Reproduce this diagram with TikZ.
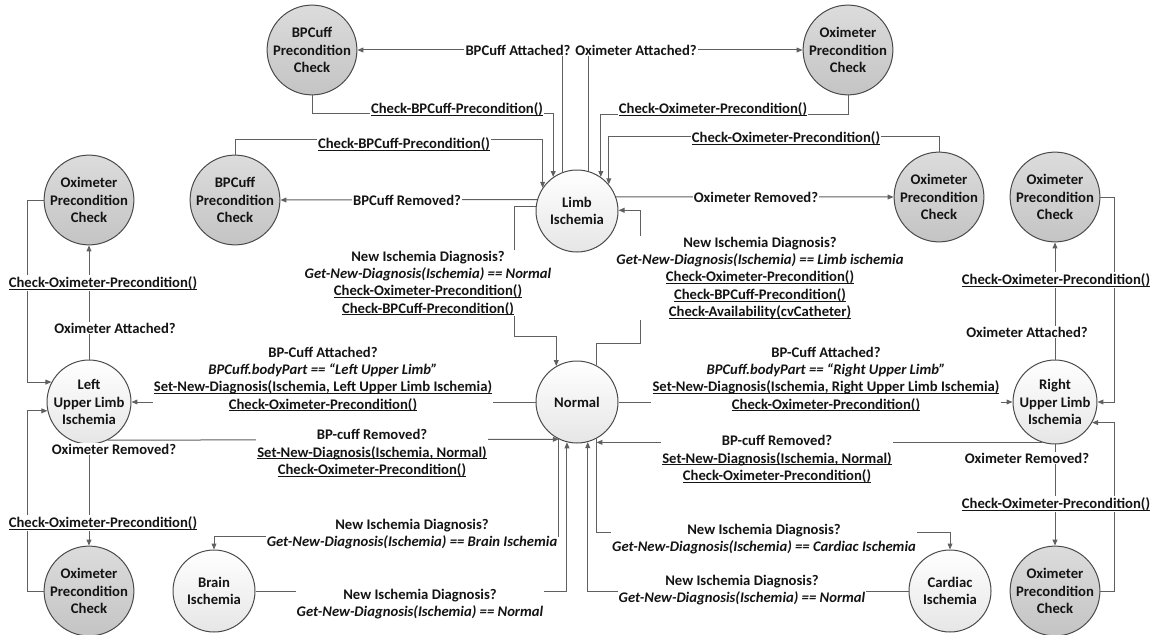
\documentclass[tikz,border=0pt]{standalone}
\usepackage{fontspec}
\setmainfont{Carlito}
\usetikzlibrary{arrows.meta}

\definecolor{lineGray}{HTML}{606060}
\definecolor{rimGray}{HTML}{4A4A4A}
\definecolor{pcTop}{HTML}{DCDCDC}
\definecolor{pcBot}{HTML}{C4C4C4}
\definecolor{stTop}{HTML}{FFFFFF}
\definecolor{stBot}{HTML}{E6E6E6}
\definecolor{ink}{HTML}{141414}

\newcommand\lblfont{\fontsize{11}{13}\selectfont\bfseries}
\newcommand\uln[1]{\setbox0\hbox{#1}\rlap{\rule[-1.6pt]{\wd0}{0.6pt}}\box0}

\tikzset{
  stnode/.style={circle, draw=rimGray, line width=0.75pt, minimum size=61.5pt,
    inner sep=0pt, align=center, font=\lblfont, text=ink},
  pcnode/.style={stnode, top color=pcTop, bottom color=pcBot},
  wtnode/.style={stnode, top color=stTop, bottom color=stBot},
  conn/.style={draw=lineGray, line width=0.75pt},
  arr/.style={conn, -{Triangle[length=4.5pt,width=3.6pt]}},
  lbl/.style={fill=white, inner sep=0.8pt, align=center, font=\lblfont, text=ink}
}

\begin{document}
\begin{tikzpicture}[x=0.75pt,y=-0.75pt]
\fill[white] (0,0) rectangle (1156,635);
\useasboundingbox (0,0) rectangle (1156,635);

% states
\node[pcnode] (bpTop)   at (312,50)  {BPCuff\\Precondition\\Check};
\node[pcnode] (oxTop)   at (848,50)  {Oximeter\\Precondition\\Check};
\node[wtnode] (limb)    at (577,211) {Limb\\Ischemia};
\node[pcnode] (bpMid)   at (235,200) {BPCuff\\Precondition\\Check};
\node[pcnode] (oxMid)   at (939,197) {Oximeter\\Precondition\\Check};
\node[pcnode] (oxL)     at (89,200)  {Oximeter\\Precondition\\Check};
\node[pcnode] (oxR)     at (1055,197){Oximeter\\Precondition\\Check};
\node[wtnode] (lul)     at (89,402)  {Left\\Upper Limb\\Ischemia};
\node[wtnode] (normal)  at (577,402) {Normal};
\node[wtnode] (rul)     at (1055,402){Right\\Upper Limb\\Ischemia};
\node[wtnode] (brain)   at (214,591) {Brain\\Ischemia};
\node[wtnode] (cardiac) at (950,591) {Cardiac\\Ischemia};
\node[pcnode] (oxLB)    at (89,591)  {Oximeter\\Precondition\\Check};
\node[pcnode] (oxRB)    at (1055,591){Oximeter\\Precondition\\Check};

% transitions around Limb Ischemia
\draw[arr] (limb.111.4) |- (bpTop.east);
\draw[arr] (limb.74.4) |- (oxTop.west);
\draw[arr] (bpTop.south) -- ++(0,18) -| (limb.125.8);
\draw[arr] (oxTop.south) -- ++(0,19) -| (limb.55.9);
\draw[arr] (bpMid.north) -- ++(0,-15) -| (limb.146);
\draw[arr] (oxMid.north) -- ++(0,-15) -| (limb.40.9);
\draw[arr] (limb.164.4) -- (bpMid.east);
\draw[arr] (limb.20) -- (oxMid.west);
\draw[arr] (limb.174.4) -- ++(-21,0) -- ++(0,130) -| (normal.120.8);
\draw[arr] (normal.62.4) -- ++(0,-22) -- ++(44,0) |- (limb.1.4);

% transitions around Normal
\draw[arr] (normal.west) -- (lul.east);
\draw[arr] (lul.-64.5) -- (normal.244.5);
\draw[arr] (normal.east) -- (rul.west);
\draw[arr] (rul.-108) -- (rul.-108 -| normal.-62.4);
\draw[arr] (normal.-117.6) -- ++(0,98) -| (brain.north);
\draw[arr] (brain.east) -| (normal.-104.1);
\draw[arr] (normal.-62.4) -- ++(0,94) -| (cardiac.north);
\draw[arr] (cardiac.west) -| (normal.-75.9);

% oximeter checks of the upper limbs
\draw[arr] (lul.north) -- (oxL.south);
\draw[arr] (oxL.west) -- ++(-16,0) |- (lul.152.4);
\draw[arr] (lul.south) -- (oxLB.north);
\draw[arr] (oxLB.west) -- ++(-16,0) |- (lul.192.7);
\draw[arr] (rul.north) -- (oxR.south);
\draw[arr] (oxR.east) -- ++(14,0) |- (rul.east);
\draw[arr] (rul.south) -- (oxRB.north);
\draw[arr] (oxRB.east) -- ++(14,0) |- (rul.-29.2);

% guards and actions
\node[lbl] (g1)  at (518,50)  {BPCuff Attached?};
\node[lbl] (g2)  at (636,50)  {Oximeter Attached?};
\node[lbl] (g3)  at (457,109) {\uln{Check-BPCuff-Precondition()}};
\node[lbl] (g4)  at (713,109) {\uln{Check-Oximeter-Precondition()}};
\node[lbl] (g5)  at (404,144) {\uln{Check-BPCuff-Precondition()}};
\node[lbl] (g6)  at (786,138) {\uln{Check-Oximeter-Precondition()}};
\node[lbl] (g7)  at (407,200) {BPCuff Removed?};
\node[lbl] (g8)  at (756,197) {Oximeter Removed?};
\node[lbl] (g9)  at (428,283) {New Ischemia Diagnosis?\\
  \textit{Get-New-Diagnosis(Ischemia) == Normal}\\
  \uln{Check-Oximeter-Precondition()}\\
  \uln{Check-BPCuff-Precondition()}};
\node[lbl] (g10) at (760,278) {New Ischemia Diagnosis?\\
  \textit{Get-New-Diagnosis(Ischemia) == Limb ischemia}\\
  \uln{Check-Oximeter-Precondition()}\\
  \uln{Check-BPCuff-Precondition()}\\
  \uln{Check-Availability(cvCatheter)}};
\node[lbl] (g11) at (323,379) {BP-Cuff Attached?\\
  \textit{BPCuff.bodyPart == “Left Upper Limb”}\\
  \uln{Set-New-Diagnosis(Ischemia, Left Upper Limb Ischemia)}\\
  \uln{Check-Oximeter-Precondition()}};
\node[lbl] (g12) at (372,453) {BP-cuff Removed?\\
  \uln{Set-New-Diagnosis(Ischemia, Normal)}\\
  \uln{Check-Oximeter-Precondition()}};
\node[lbl] (g13) at (826,379) {BP-Cuff Attached?\\
  \textit{BPCuff.bodyPart == “Right Upper Limb”}\\
  \uln{Set-New-Diagnosis(Ischemia, Right Upper Limb Ischemia)}\\
  \uln{Check-Oximeter-Precondition()}};
\node[lbl] (g14) at (777,459) {BP-cuff Removed?\\
  \uln{Set-New-Diagnosis(Ischemia, Normal)}\\
  \uln{Check-Oximeter-Precondition()}};
\node[lbl] (g15a) at (103,283) {\uln{Check-Oximeter-Precondition()}};
\node[lbl] (g15b) at (115,328) {Oximeter Attached?};
\node[lbl] (g17a) at (114,449) {Oximeter Removed?};
\node[lbl] (g17b) at (103,523) {\uln{Check-Oximeter-Precondition()}};
\node[lbl] (g19a) at (1056,280) {\uln{Check-Oximeter-Precondition()}};
\node[lbl] (g19b) at (1027,332) {Oximeter Attached?};
\node[lbl] (g21a) at (1027,458) {Oximeter Removed?};
\node[lbl] (g21b) at (1056,504) {\uln{Check-Oximeter-Precondition()}};
\node[lbl] (g23) at (412,534) {New Ischemia Diagnosis?\\
  \textit{Get-New-Diagnosis(Ischemia) == Brain Ischemia}};
\node[lbl] (g24) at (420,604) {New Ischemia Diagnosis?\\
  \textit{Get-New-Diagnosis(Ischemia) == Normal}};
\node[lbl] (g25) at (764,539) {New Ischemia Diagnosis?\\
  \textit{Get-New-Diagnosis(Ischemia) == Cardiac Ischemia}};
\node[lbl] (g26) at (742,590) {New Ischemia Diagnosis?\\
  \textit{Get-New-Diagnosis(Ischemia) == Normal}};
\end{tikzpicture}
\end{document}
